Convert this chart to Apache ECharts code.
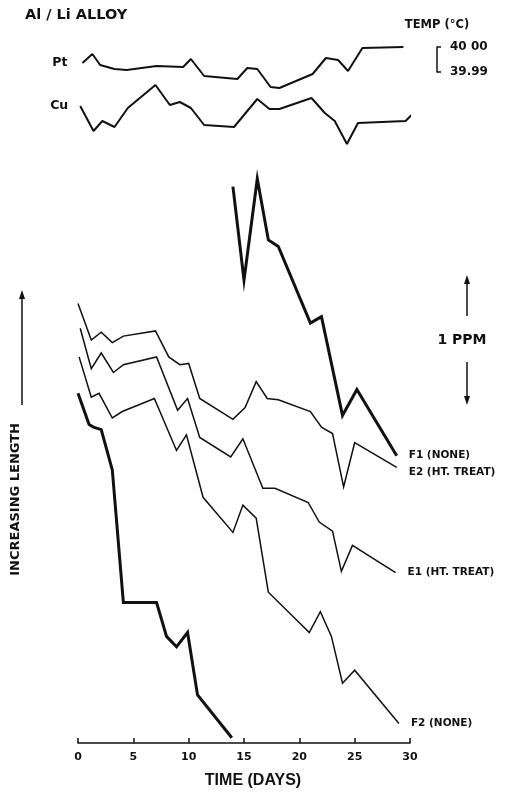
<!DOCTYPE html>
<html>
<head>
<meta charset="utf-8">
<script src="https://cdn.jsdelivr.net/npm/echarts@6/dist/echarts.min.js"></script>
<style>
  html, body { margin: 0; padding: 0; background: #fff; }
  #chart { width: 520px; height: 796px; }
</style>
</head>
<body>
<div id="chart"></div>
<script>
// ---- Length change (ppm, offset traces) vs. time (days) ----
const e2Days   = [0, 1.2, 2.1, 3.1, 4.1, 7, 8.2, 9.2, 10, 11, 14, 15.1, 16.1, 17.1, 18.1, 21, 22, 23, 24, 25, 28.8];
const e2Length = [3.38, 3.10, 3.16, 3.08, 3.13, 3.17, 2.97, 2.91, 2.92, 2.65, 2.49, 2.58, 2.78, 2.65, 2.64, 2.55, 2.43, 2.38, 1.97, 2.31, 2.12];

const e1Days   = [0.2, 1.2, 2.1, 3.2, 4.1, 7.1, 9, 9.9, 11, 13.8, 14.9, 16.7, 17.8, 20.8, 21.8, 23, 23.8, 24.8, 28.7];
const e1Length = [3.19, 2.88, 3.00, 2.85, 2.91, 2.97, 2.56, 2.65, 2.35, 2.20, 2.34, 1.96, 1.96, 1.85, 1.70, 1.63, 1.32, 1.52, 1.31];

const f2Days   = [0.1, 1.2, 1.9, 3.1, 4, 6.9, 8.9, 9.8, 11.3, 14, 14.9, 16.1, 17.2, 20.9, 21.9, 22.9, 23.9, 25, 29];
const f2Length = [2.97, 2.66, 2.69, 2.50, 2.55, 2.65, 2.25, 2.37, 1.89, 1.62, 1.83, 1.73, 1.16, 0.85, 1.01, 0.82, 0.46, 0.56, 0.15];

// F1 runs off the bottom at day 14 and is continued from the top of the panel
const f1LowerDays   = [0, 1, 1.4, 2.1, 3.1, 4.1, 7.1, 8, 8.9, 9.9, 10.8, 13.9];
const f1LowerLength = [2.69, 2.45, 2.43, 2.41, 2.10, 1.08, 1.08, 0.82, 0.74, 0.85, 0.37, 0.04];
const f1UpperDays   = [14, 15, 16.2, 17.2, 18.1, 21, 22, 23.9, 25.2, 28.8];
const f1UpperLength = [4.28, 3.56, 4.34, 3.87, 3.82, 3.23, 3.28, 2.52, 2.72, 2.21];

// ---- Bath temperatures (°C) ----
const ptDays = [0.4, 1.3, 2.0, 3.3, 4.4, 7.1, 9.5, 10.2, 11.4, 14.4, 15.3, 16.2, 17.4, 18.2, 21.2, 22.4, 23.5, 24.4, 25.7, 29.4];
const ptTemp = [39.9936, 39.9972, 39.9928, 39.9912, 39.9908, 39.9924, 39.9920, 39.9952, 39.9884, 39.9872,
                39.9916, 39.9912, 39.9840, 39.9836, 39.9892, 39.9956, 39.9948, 39.9904, 39.9996, 40.0000];
const cuDays = [0.2, 1.4, 2.2, 3.3, 4.5, 7.0, 8.3, 9.2, 10.2, 11.4, 14.1, 16.2, 17.3, 18.2, 21.1, 22.3, 23.2, 24.3, 25.3, 29.6, 30.4];
const cuTemp = [39.9964, 39.9864, 39.9904, 39.9880, 39.9956, 40.0048, 39.9968, 39.9980, 39.9956, 39.9888, 39.9880,
                39.9992, 39.9952, 39.9952, 39.9996, 39.9936, 39.9904, 39.9812, 39.9896, 39.9904, 39.9940];

const timeTicks = [0, 5, 10, 15, 20, 25, 30];
const tempScaleLabels = { '39.99': '39.99', '40': '40 00' };

const FONT = 'DejaVu Sans';
const INK = '#111';

function pairs(xs, ys) { return xs.map((x, i) => [x, ys[i]]); }

function lengthSeries(name, xs, ys, width, withEnd, endOffsetY) {
  return {
    type: 'line', name, xAxisIndex: 0, yAxisIndex: 0,
    data: pairs(xs, ys), showSymbol: false, silent: true, clip: false,
    lineStyle: { color: INK, width, join: 'miter' },
    endLabel: withEnd ? {
      show: true, formatter: name, distance: 12, offset: [0, endOffsetY || 0],
      color: INK, fontFamily: FONT, fontWeight: 'bold', fontSize: 10.5
    } : { show: false }
  };
}

function tempSeries(name, xs, ys, yAxisIndex, labelDist) {
  return {
    type: 'line', name, xAxisIndex: 1, yAxisIndex,
    data: pairs(xs, ys), showSymbol: true, symbol: 'circle', symbolSize: 0,
    silent: true, clip: false,
    lineStyle: { color: INK, width: 2 },
    itemStyle: { color: INK },
    label: {
      show: true, position: 'left', distance: labelDist,
      formatter: p => (p.dataIndex === 0 ? p.seriesName : ''),
      color: INK, fontFamily: FONT, fontWeight: 'bold', fontSize: 12.5
    }
  };
}

const chart = echarts.init(document.getElementById('chart'), null, { renderer: 'canvas' });

const option = {
  animation: false,
  backgroundColor: '#fff',
  grid: [
    { left: 78, width: 332, top: 171, height: 572 },   // length panel
    { left: 78, width: 332, top: 30, height: 120 },    // temperature panel
    { left: 437, width: 10, top: 47, height: 25 }      // temperature scale bar
  ],
  xAxis: [
    {
      type: 'value', gridIndex: 0, min: 0, max: 30, interval: 5,
      axisLine: { show: true, lineStyle: { color: INK, width: 1.6 } },
      axisTick: { show: true, inside: true, length: 5, lineStyle: { color: INK, width: 1.5 } },
      splitLine: { show: false },
      axisLabel: { color: INK, fontFamily: FONT, fontWeight: 'bold', fontSize: 11, margin: 9,
                   formatter: v => (timeTicks.includes(v) ? String(v) : '') },
      name: 'TIME (DAYS)', nameLocation: 'middle', nameGap: 30,
      nameTextStyle: { color: INK, fontFamily: 'Liberation Sans', fontWeight: 'bold', fontSize: 16, padding: [0, 0, 0, 18] }
    },
    { type: 'value', gridIndex: 1, min: 0, max: 30, show: false },
    { type: 'value', gridIndex: 2, min: 0, max: 1, show: false }
  ],
  yAxis: [
    { type: 'value', gridIndex: 0, min: 0, max: 4.4, show: false },
    { type: 'value', gridIndex: 1, min: 39.9588, max: 40.0068, show: false },
    { type: 'value', gridIndex: 1, min: 39.9788, max: 40.0268, show: false },
    {
      type: 'value', gridIndex: 2, position: 'right', min: 39.99, max: 40.00, interval: 0.01,
      axisLine: { show: true, lineStyle: { color: INK, width: 1.5 } },
      axisTick: { show: true, length: 4, lineStyle: { color: INK, width: 1.5 } },
      splitLine: { show: false },
      axisLabel: { color: INK, fontFamily: FONT, fontWeight: 'bold', fontSize: 12, margin: 3,
                   formatter: v => tempScaleLabels[String(+v.toFixed(2))] || '' },
      name: 'TEMP (°C)', nameLocation: 'end', nameGap: 16,
      nameTextStyle: { color: INK, fontFamily: FONT, fontWeight: 'bold', fontSize: 11.5, align: 'center', padding: [0, 0, 0, 0] }
    }
  ],
  series: [
    tempSeries('Pt', ptDays, ptTemp, 1, 15),
    tempSeries('Cu', cuDays, cuTemp, 2, 12),
    lengthSeries('F1 (NONE)', f1UpperDays, f1UpperLength, 3, true, 0),
    lengthSeries('F1 (NONE)', f1LowerDays, f1LowerLength, 3, false),
    lengthSeries('E2 (HT. TREAT)', e2Days, e2Length, 1.5, true, 5),
    lengthSeries('E1 (HT. TREAT)', e1Days, e1Length, 1.5, true, 0),
    lengthSeries('F2 (NONE)', f2Days, f2Length, 1.5, true, 0)
  ]
};
chart.setOption(option);

// Annotations: title, "1 PPM" scale arrows, and the length-direction caption
const ppmTop = chart.convertToPixel({ yAxisIndex: 0 }, 3.6);
const ppmBot = chart.convertToPixel({ yAxisIndex: 0 }, 2.6);
const ppmMid = (ppmTop + ppmBot) / 2;
const ax = 467;

function arrowHead(x, y, dir) {
  return { type: 'polygon', shape: { points: [[x, y], [x - 3, y - dir * 9], [x + 3, y - dir * 9]] },
           style: { fill: INK }, silent: true };
}

chart.setOption({
  graphic: [
    { type: 'text', left: 25, top: 8, silent: true,
      style: { text: 'Al / Li ALLOY', fill: INK, font: 'bold 14.5px "DejaVu Sans"' } },
    { type: 'text', x: 462, y: ppmMid, silent: true,
      style: { text: '1 PPM', fill: INK, font: 'bold 14px "DejaVu Sans"', align: 'center', verticalAlign: 'middle' } },
    { type: 'line', silent: true, shape: { x1: ax, y1: ppmMid - 24, x2: ax, y2: ppmTop + 6 }, style: { stroke: INK, lineWidth: 1.5 } },
    arrowHead(ax, ppmTop, -1),
    { type: 'line', silent: true, shape: { x1: ax, y1: ppmMid + 22, x2: ax, y2: ppmBot - 6 }, style: { stroke: INK, lineWidth: 1.5 } },
    arrowHead(ax, ppmBot, 1),
    { type: 'line', silent: true, shape: { x1: 22, y1: 405, x2: 22, y2: 296 }, style: { stroke: INK, lineWidth: 1.5 } },
    arrowHead(22, 290, -1),
    { type: 'text', x: 16, y: 423, rotation: Math.PI / 2, silent: true,
      style: { text: 'INCREASING LENGTH', fill: INK, font: 'bold 13px "DejaVu Sans"', align: 'right', verticalAlign: 'middle' } }
  ]
});
</script>
</body>
</html>
